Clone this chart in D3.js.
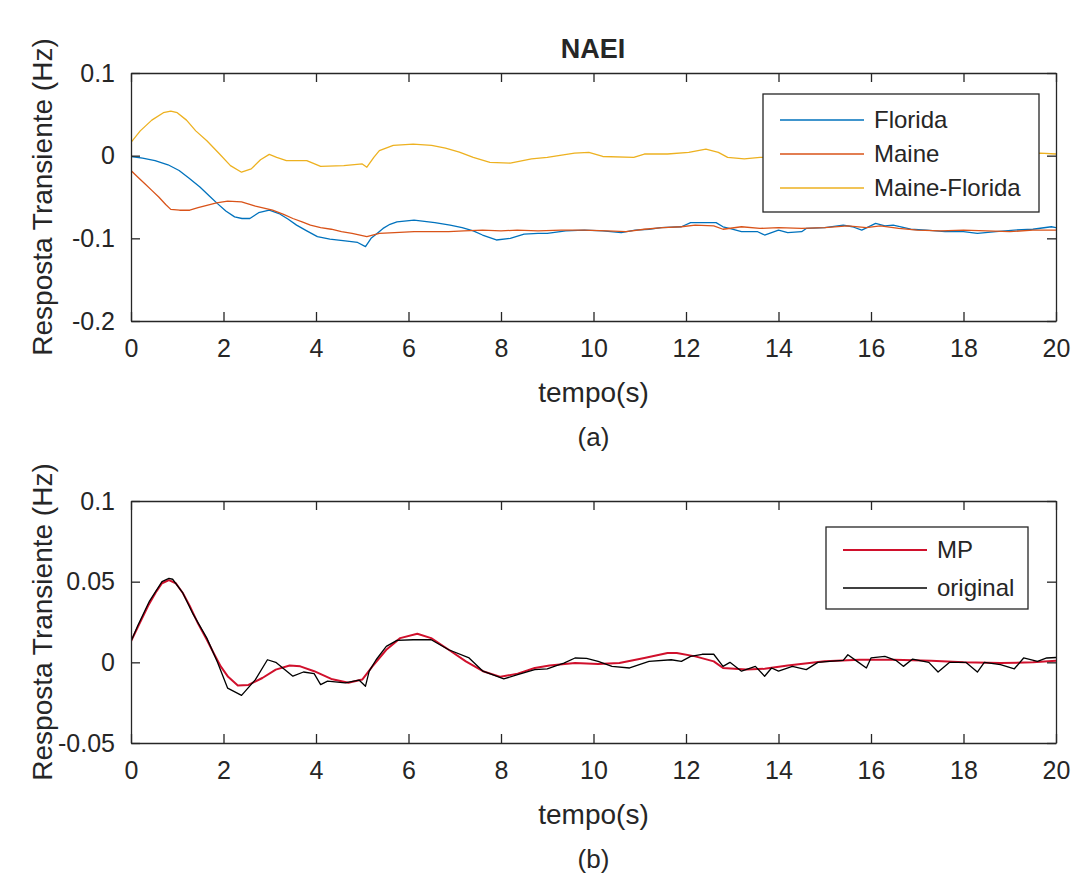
<!DOCTYPE html>
<html>
<head>
<meta charset="utf-8">
<script src="https://cdn.jsdelivr.net/npm/d3@7"></script>
<style>
  html, body { margin: 0; padding: 0; background: #fff; }
  svg { display: block; }
  text { font-family: "Liberation Sans", Arial, sans-serif; fill: #262626; }
</style>
</head>
<body>
<svg id="fig" width="1074" height="877"></svg>
<script>
// ---- data: [tempo (s), resposta (Hz)] ----
const xTicks = [0, 2, 4, 6, 8, 10, 12, 14, 16, 18, 20];
const yTicksA = [-0.2, -0.1, 0, 0.1];
const yTicksB = [-0.05, 0, 0.05, 0.1];
const yTickLabelsA = ["-0.2", "-0.1", "0", "0.1"];
const yTickLabelsB = ["-0.05", "0", "0.05", "0.1"];
const seriesNamesA = ["Florida", "Maine", "Maine-Florida"];
const seriesNamesB = ["MP", "original"];

const florida = [
  [0, -0.001], [0.25, -0.003], [0.52, -0.006], [0.8, -0.011], [1.04, -0.018], [1.25, -0.027],
  [1.49, -0.038], [1.7, -0.049], [1.87, -0.058], [2.05, -0.067], [2.24, -0.074], [2.4, -0.076],
  [2.57, -0.076], [2.76, -0.069], [2.99, -0.066], [3.2, -0.07], [3.4, -0.077], [3.58, -0.084],
  [3.8, -0.091], [4.03, -0.098], [4.3, -0.101], [4.63, -0.103], [4.9, -0.105], [5.07, -0.11],
  [5.19, -0.1], [5.3, -0.095], [5.45, -0.088], [5.6, -0.083], [5.75, -0.08], [6.12, -0.078],
  [6.57, -0.081], [6.9, -0.084], [7.16, -0.087], [7.4, -0.091], [7.6, -0.096], [7.9, -0.102],
  [8.2, -0.1], [8.5, -0.095], [8.8, -0.094], [9.0, -0.094], [9.4, -0.091], [9.8, -0.09],
  [10.2, -0.091], [10.6, -0.093], [10.9, -0.09], [11.2, -0.089], [11.46, -0.087], [11.9, -0.086],
  [12.1, -0.081], [12.4, -0.081], [12.65, -0.081], [12.8, -0.086], [13.0, -0.089], [13.2, -0.092],
  [13.55, -0.092], [13.7, -0.096], [14.0, -0.09], [14.2, -0.093], [14.5, -0.092], [14.6, -0.088],
  [15.0, -0.087], [15.4, -0.084], [15.6, -0.086], [15.8, -0.09], [16.1, -0.082], [16.3, -0.085],
  [16.48, -0.084], [16.86, -0.089], [17.2, -0.09], [17.6, -0.092], [18.0, -0.092], [18.3, -0.094],
  [18.7, -0.092], [19.1, -0.09], [19.5, -0.089], [19.9, -0.086], [20, -0.087]
];

const maine = [
  [0, -0.018], [0.15, -0.026], [0.3, -0.034], [0.45, -0.042], [0.6, -0.05], [0.75, -0.059],
  [0.86, -0.065], [1.05, -0.066], [1.27, -0.066], [1.45, -0.063], [1.64, -0.06], [1.85, -0.057],
  [2.09, -0.055], [2.39, -0.056], [2.69, -0.061], [3.06, -0.066], [3.3, -0.071], [3.5, -0.076],
  [3.7, -0.08], [3.88, -0.084], [4.1, -0.087], [4.33, -0.089], [4.55, -0.092], [4.78, -0.094],
  [5.1, -0.098], [5.37, -0.094], [5.7, -0.093], [6.12, -0.092], [6.5, -0.092], [6.87, -0.092],
  [7.2, -0.091], [7.6, -0.09], [8.0, -0.091], [8.35, -0.09], [8.8, -0.091], [9.3, -0.09],
  [9.8, -0.09], [10.3, -0.091], [10.7, -0.092], [11.1, -0.089], [11.5, -0.087], [11.9, -0.086],
  [12.2, -0.084], [12.6, -0.085], [12.8, -0.089], [13.2, -0.086], [13.6, -0.088], [14.0, -0.087],
  [14.5, -0.088], [15.0, -0.087], [15.5, -0.085], [15.9, -0.087], [16.2, -0.085], [16.6, -0.088],
  [17.0, -0.09], [17.5, -0.091], [18.0, -0.09], [18.5, -0.091], [19.0, -0.092], [19.5, -0.09],
  [20, -0.09]
];

const maineFlorida = [
  [0, 0.016], [0.2, 0.03], [0.45, 0.043], [0.7, 0.052], [0.86, 0.054], [1.0, 0.052],
  [1.2, 0.043], [1.4, 0.03], [1.64, 0.018], [1.9, 0.003], [2.15, -0.012], [2.39, -0.02],
  [2.6, -0.016], [2.8, -0.005], [2.99, 0.0016], [3.15, -0.002], [3.36, -0.006], [3.6, -0.006],
  [3.8, -0.006], [4.1, -0.013], [4.6, -0.012], [5.0, -0.01], [5.1, -0.014], [5.25, -0.002],
  [5.37, 0.006], [5.67, 0.0125], [6.1, 0.014], [6.5, 0.0125], [6.8, 0.009], [7.1, 0.0044],
  [7.4, -0.002], [7.76, -0.008], [8.2, -0.009], [8.66, -0.004], [9.0, -0.002], [9.59, 0.003],
  [9.9, 0.004], [10.2, -0.001], [10.87, -0.002], [11.1, 0.002], [11.6, 0.002], [12.06, 0.004],
  [12.43, 0.008], [12.7, 0.004], [12.9, -0.002], [13.26, -0.004], [13.6, -0.002], [14.2, -0.003],
  [15.0, 0.0], [16.0, 0.001], [17.0, 0.0], [18.0, 0.002], [19.0, 0.001], [19.66, 0.003], [20, 0.002]
];

const mp = [
  [0, 0.013], [0.15, 0.022], [0.37, 0.035], [0.55, 0.044], [0.67, 0.049], [0.82, 0.051],
  [0.97, 0.049], [1.12, 0.043], [1.27, 0.035], [1.45, 0.024], [1.64, 0.014], [1.8, 0.005],
  [1.94, -0.0025], [2.1, -0.009], [2.31, -0.0144], [2.54, -0.014], [2.84, -0.0097], [3.13, -0.0045],
  [3.43, -0.002], [3.66, -0.0025], [3.96, -0.0055], [4.33, -0.0103], [4.7, -0.0127], [5.0, -0.0107],
  [5.22, -0.0025], [5.52, 0.0078], [5.82, 0.015], [6.19, 0.0177], [6.49, 0.015], [6.87, 0.0078],
  [7.24, 0.0006], [7.61, -0.0055], [7.99, -0.009], [8.36, -0.007], [8.73, -0.0035], [9.05, -0.002],
  [9.6, -0.0004], [10.1, -0.001], [10.56, -0.0004], [11.1, 0.0027], [11.6, 0.0058], [11.8, 0.0058],
  [12.2, 0.0037], [12.6, 0.0006], [12.8, -0.0035], [13.3, -0.0045], [13.7, -0.004], [14.2, -0.002],
  [15.0, 0.0006], [15.75, 0.0016], [16.5, 0.0016], [17.3, 0.001], [18.0, 0.0], [18.8, -0.0004],
  [19.5, 0.0], [20, 0.001]
];

const original = [
  [0, 0.013], [0.15, 0.023], [0.4, 0.038], [0.67, 0.05], [0.82, 0.052], [0.9, 0.0515],
  [1.12, 0.043], [1.34, 0.03], [1.64, 0.015], [1.87, 0.0], [2.09, -0.016], [2.39, -0.0205],
  [2.69, -0.0107], [2.95, 0.0016], [3.13, 0.0], [3.5, -0.0086], [3.73, -0.006], [3.96, -0.007],
  [4.1, -0.0138], [4.25, -0.0117], [4.63, -0.0127], [4.93, -0.011], [5.07, -0.0148], [5.15, -0.0055],
  [5.3, 0.0016], [5.52, 0.0099], [5.75, 0.0136], [6.1, 0.014], [6.49, 0.014], [6.87, 0.0078],
  [7.31, 0.0027], [7.61, -0.0055], [8.06, -0.0103], [8.36, -0.0076], [8.73, -0.0045], [9.0, -0.004],
  [9.2, -0.002], [9.36, -0.0005], [9.6, 0.0027], [9.85, 0.0025], [10.1, 0.0006], [10.4, -0.0025],
  [10.78, -0.0035], [11.2, 0.0006], [11.68, 0.0016], [11.9, 0.0006], [12.1, 0.0037], [12.35, 0.005],
  [12.6, 0.005], [12.8, -0.0025], [12.95, 0.0], [13.2, -0.0055], [13.5, -0.0025], [13.7, -0.0086],
  [13.85, -0.0035], [14.0, -0.0055], [14.3, -0.0025], [14.6, -0.0045], [14.85, 0.0], [15.1, 0.0006],
  [15.4, 0.0012], [15.5, 0.0047], [15.7, 0.0006], [15.9, -0.0035], [16.0, 0.0027], [16.3, 0.0037],
  [16.55, 0.001], [16.7, -0.0025], [16.9, 0.002], [17.25, 0.0], [17.45, -0.006], [17.7, 0.0],
  [18.05, 0.0], [18.3, -0.006], [18.45, 0.0], [18.8, -0.0014], [19.1, -0.004], [19.3, 0.0027],
  [19.6, 0.0006], [19.8, 0.0027], [20, 0.003]
];

// ---- drawing ----
const svg = d3.select("#fig");
const FONT = '"Liberation Sans", Arial, sans-serif';

function drawPanel(cfg) {
  const g = svg.append("g");
  const x = d3.scaleLinear().domain([0, 20]).range([cfg.left, cfg.right]);
  const y = d3.scaleLinear().domain(cfg.yDomain).range([cfg.bottom, cfg.top]);
  const tickLen = 9;

  // data lines (clipped to the axes box)
  const clipId = "clip-" + cfg.id;
  svg.append("defs").append("clipPath").attr("id", clipId)
    .append("rect").attr("x", cfg.left).attr("y", cfg.top)
    .attr("width", cfg.right - cfg.left).attr("height", cfg.bottom - cfg.top);

  const line = d3.line().x(d => x(d[0])).y(d => y(d[1]));
  const lines = g.append("g").attr("clip-path", `url(#${clipId})`);
  cfg.series.forEach(s => {
    lines.append("path").datum(s.data)
      .attr("d", line)
      .attr("fill", "none")
      .attr("stroke", s.color)
      .attr("stroke-width", s.width)
      .attr("stroke-linejoin", "round");
  });

  // axes: ticks point inward on all four sides
  const axisColor = "#262626";
  const axB = d3.axisBottom(x).tickValues(xTicks).tickSizeInner(-tickLen).tickSizeOuter(0)
    .tickPadding(18).tickFormat(d3.format("d"));
  const axT = d3.axisTop(x).tickValues(xTicks).tickSizeInner(-tickLen).tickSizeOuter(0).tickFormat("");
  const axL = d3.axisLeft(y).tickValues(cfg.yTicks).tickSizeInner(-tickLen).tickSizeOuter(0)
    .tickPadding(16).tickFormat((d, i) => cfg.yLabels[i]);
  const axR = d3.axisRight(y).tickValues(cfg.yTicks).tickSizeInner(-tickLen).tickSizeOuter(0).tickFormat("");

  const styleAxis = sel => {
    sel.select(".domain").attr("stroke", axisColor).attr("stroke-width", 1.3);
    sel.selectAll(".tick line").attr("stroke", axisColor).attr("stroke-width", 1.3);
    sel.selectAll(".tick text").attr("font-family", FONT).attr("font-size", 25).attr("fill", "#262626");
  };
  g.append("g").attr("transform", `translate(0,${cfg.bottom})`).call(axB).call(styleAxis);
  g.append("g").attr("transform", `translate(0,${cfg.top})`).call(axT).call(styleAxis);
  g.append("g").attr("transform", `translate(${cfg.left},0)`).call(axL).call(styleAxis);
  g.append("g").attr("transform", `translate(${cfg.right},0)`).call(axR).call(styleAxis);

  // axis labels
  const cx = (cfg.left + cfg.right) / 2;
  g.append("text").attr("x", cx).attr("y", cfg.bottom + 81)
    .attr("text-anchor", "middle").attr("font-size", 28).text("tempo(s)");
  g.append("text").attr("x", cx).attr("y", cfg.bottom + 125)
    .attr("text-anchor", "middle").attr("font-size", 26).text(cfg.caption);
  g.append("text")
    .attr("transform", `translate(52,${(cfg.top + cfg.bottom) / 2}) rotate(-90)`)
    .attr("text-anchor", "middle").attr("font-size", 28).text("Resposta Transiente (Hz)");

  // legend
  const L = cfg.legend;
  const lg = g.append("g");
  lg.append("rect").attr("x", L.x).attr("y", L.y).attr("width", L.w).attr("height", L.h)
    .attr("fill", "#fff").attr("stroke", "#262626").attr("stroke-width", 1.3);
  cfg.series.forEach((s, i) => {
    const yy = L.y + L.first + i * L.step;
    lg.append("line").attr("x1", L.x + 17).attr("x2", L.x + 101).attr("y1", yy).attr("y2", yy)
      .attr("stroke", s.color).attr("stroke-width", s.width);
    lg.append("text").attr("x", L.x + 111).attr("y", yy).attr("dy", "0.35em")
      .attr("font-size", 24).text(s.name);
  });
}

drawPanel({
  id: "a", left: 131, right: 1056, top: 73, bottom: 321,
  yDomain: [-0.2, 0.1], yTicks: yTicksA, yLabels: yTickLabelsA, caption: "(a)",
  series: [
    { name: seriesNamesA[0], data: florida, color: "#0072BD", width: 1.3 },
    { name: seriesNamesA[1], data: maine, color: "#D95319", width: 1.3 },
    { name: seriesNamesA[2], data: maineFlorida, color: "#EDB120", width: 1.3 }
  ],
  legend: { x: 763, y: 94, w: 276, h: 118, first: 26, step: 34 }
});

drawPanel({
  id: "b", left: 131, right: 1056, top: 501, bottom: 743,
  yDomain: [-0.05, 0.1], yTicks: yTicksB, yLabels: yTickLabelsB, caption: "(b)",
  series: [
    { name: seriesNamesB[0], data: mp, color: "#D0102C", width: 2 },
    { name: seriesNamesB[1], data: original, color: "#000000", width: 1.3 }
  ],
  legend: { x: 826, y: 527, w: 202, h: 82, first: 23, step: 38 }
});

// title
svg.append("text").attr("x", 593).attr("y", 58).attr("text-anchor", "middle")
  .attr("font-size", 27).attr("font-weight", "bold").attr("fill", "#000").text("NAEI");
</script>
</body>
</html>
